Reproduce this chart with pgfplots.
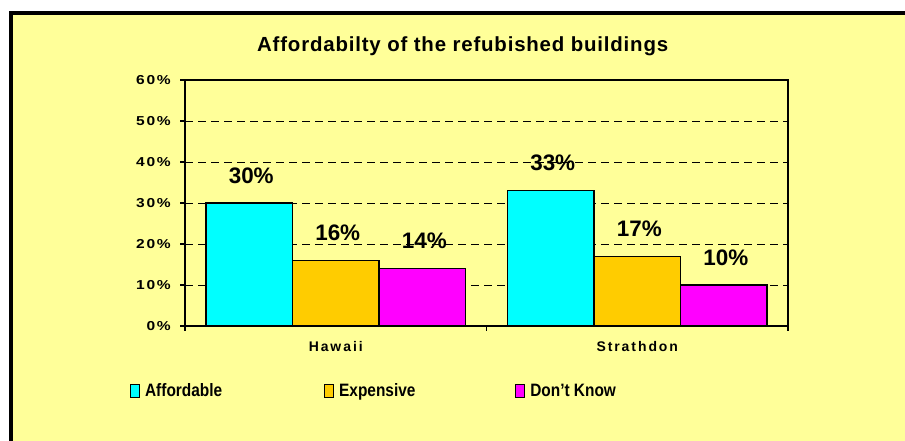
\documentclass[border=0pt]{standalone}
\usepackage{fontspec}
\setmainfont{Liberation Sans}
\newfontfamily\condfont[FakeStretch=0.86]{Liberation Sans}
\newfontfamily\tickfont[LetterSpace=14,FakeStretch=1.2]{Liberation Sans}
\newfontfamily\catfont[LetterSpace=14]{Liberation Sans}
\newfontfamily\titlefont[LetterSpace=4]{Liberation Sans}
\usepackage{pgfplots}
\pgfplotsset{compat=1.18}
\definecolor{chartbg}{HTML}{FFFF99}
\definecolor{aff}{HTML}{00FFFF}
\definecolor{exp}{HTML}{FFCC00}
\definecolor{dk}{HTML}{FF00FF}

\begin{document}
\begin{tikzpicture}
\useasboundingbox (0bp,0bp) rectangle (905bp,441bp);
\fill[white] (0bp,0bp) rectangle (905bp,441bp);
\fill[chartbg] (10.7bp,0bp) rectangle (905bp,428.25bp);
\draw[line width=3.7bp, line join=miter] (10.7bp,0bp) -- (10.7bp,428.25bp) -- (905bp,428.25bp);
\node[anchor=base west, inner sep=0pt, font=\titlefont\bfseries\fontsize{20.5}{24}\selectfont]
  at (257bp,389bp) {Affordabilty of the refubished buildings};
\begin{axis}[
  at={(185bp,115bp)}, anchor=south west,
  scale only axis, width=603bp, height=246bp,
  xmin=0, xmax=2, ymin=0, ymax=60,
  ybar=0pt, bar width=0.287,
  axis line style={black, line width=1.7bp},
  tick align=outside, xtick pos=bottom, ytick pos=left,
  tick style={black, line width=1.2bp},
  major tick length=5bp,
  ytick={0,10,...,60},
  yticklabels={0\%,10\%,20\%,30\%,40\%,50\%,60\%},
  yticklabel style={font=\tickfont\bfseries\fontsize{13}{15}\selectfont, inner sep=0pt, xshift=-9bp},
  xtick={0,1,2}, xticklabels={,,},
  extra x ticks={0.5,1.5},
  extra x tick labels={Hawaii,Strathdon},
  extra x tick style={major tick length=0pt,
    xticklabel style={font=\catfont\bfseries\fontsize{14}{16}\selectfont, anchor=base, inner sep=0pt, yshift=-26bp}},
  ymajorgrids,
  major grid style={black, dash pattern=on 8bp off 5bp, line width=0.9bp},
  point meta=y,
  nodes near coords={\pgfmathprintnumber[fixed,precision=0,assume math mode=true]{\pgfplotspointmeta}\%},
  nodes near coords style={font=\bfseries\fontsize{22.5}{24}\selectfont, anchor=south, inner sep=0pt, yshift=19bp, xshift=2bp},
  legend columns=3,
  legend style={at={(-0.0912,-0.2642)}, anchor=west, draw=none, fill=none,
    inner sep=0pt, outer sep=0pt, column sep=0pt,
    nodes={inner sep=0pt, anchor=west},
    font=\condfont\bfseries\fontsize{18}{20}\selectfont},
  legend image code/.code={\draw[#1, draw=black, line width=1.1bp] (0bp,-6.5bp) rectangle (9bp,6.5bp);},
]
\addplot[fill=aff, draw=black, line width=1.2bp] coordinates {(0.5,30) (1.5,33)};
\addlegendentry{\makebox[184bp][l]{\hspace{5bp}Affordable}}
\addplot[fill=exp, draw=black, line width=1.2bp] coordinates {(0.5,16) (1.5,17)};
\addlegendentry{\makebox[181bp][l]{\hspace{5bp}Expensive}}
\addplot[fill=dk, draw=black, line width=1.2bp] coordinates {(0.5,14) (1.5,10)};
\addlegendentry{\hspace{5bp}Don’t Know}
\end{axis}
\end{tikzpicture}
\end{document}
